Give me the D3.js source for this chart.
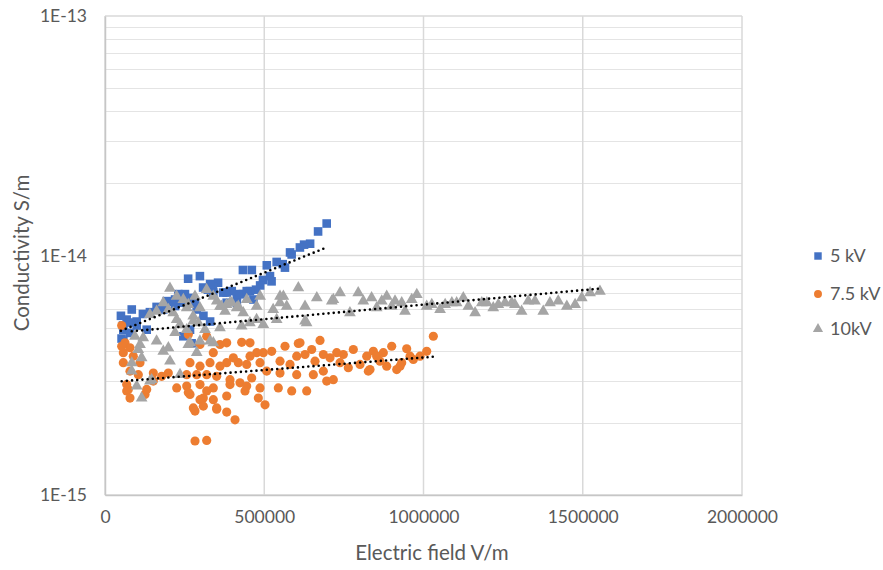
<!DOCTYPE html>
<html>
<head>
<meta charset="utf-8">
<script src="https://cdn.jsdelivr.net/npm/d3@7"></script>
<style>
  html, body { margin: 0; padding: 0; background: #ffffff; }
  svg { display: block; font-family: Lato, "Open Sans", sans-serif; }
</style>
</head>
<body>
<svg id="chart" width="883" height="570"></svg>
<script>
// Series names and legend order
const seriesNames = ["5 kV", "7.5 kV", "10kV"];

// 5 kV: electric field (V/m) and conductivity (S/m)
const field5 = [696000, 669000, 644000, 625000, 612000, 581000, 586000, 558000, 539000, 565000,
  508000, 523000, 496000, 461000, 433000, 474000, 455000, 433000, 414000, 398000,
  371000, 355000, 339000, 323000, 308000, 298000, 261000, 251000, 235500, 220000,
  209000, 194000, 162000, 141000, 119000, 99500, 84000, 68000, 56500, 230000,
  267000, 283000, 241000, 220000, 183000, 78500, 57500, 99500, 330000, 340000,
  382000, 424000, 445000, 466000, 414000, 382000, 518000, 288000, 309000, 330000,
  267000, 272000, 52000, 57500, 78500, 131000, 246000, 50000, 487000];
const cond5 = [1.36e-14, 1.26e-14, 1.12e-14, 1.11e-14, 1.08e-14, 1.03e-14, 1.01e-14, 9.2e-15, 9.4e-15, 8.9e-15,
  9.1e-15, 7.8e-15, 7.9e-15, 8.7e-15, 8.7e-15, 7.2e-15, 7.1e-15, 6.9e-15, 6.8e-15, 7.1e-15,
  7.0e-15, 7.7e-15, 7.4e-15, 7.2e-15, 7.35e-15, 8.2e-15, 8.0e-15, 6.9e-15, 6.8e-15, 6.55e-15,
  6.4e-15, 6.45e-15, 6.1e-15, 5.8e-15, 5.7e-15, 5.3e-15, 5.95e-15, 5.4e-15, 5.1e-15, 6.9e-15,
  6.65e-15, 6.35e-15, 6.35e-15, 6.15e-15, 5.95e-15, 5.25e-15, 4.9e-15, 5.1e-15, 7.6e-15, 7.0e-15,
  7.0e-15, 6.9e-15, 7.1e-15, 6.55e-15, 6.35e-15, 6.35e-15, 8.2e-15, 5.95e-15, 5.6e-15, 5.3e-15,
  4.9e-15, 4.3e-15, 4.5e-15, 4.4e-15, 4.75e-15, 4.9e-15, 4.6e-15, 5.6e-15, 7.5e-15];

// 7.5 kV
const field75 = [52400, 261600, 319300, 298300, 340000, 361100, 382100, 429200, 455300, 565200,
  607000, 675100, 649000, 727500, 748300, 779700, 842500, 853100, 900200, 947300,
  1030900, 1010100, 989100, 968100, 931600, 915900, 884500, 863500, 832100, 800700,
  763900, 737900, 706500, 685500, 685500, 659400, 628000, 601900, 580900, 549500,
  523400, 497100, 476300, 455300, 486700, 444900, 418600, 402900, 382100, 361100,
  329700, 298300, 266900, 256500, 287900, 319300, 350700, 392500, 423900, 460600,
  507700, 549500, 601900, 654100, 696100, 716900, 256500, 298300, 340100, 392500,
  444900, 486700, 544200, 586200, 633300, 308700, 340100, 266900, 481400, 502400,
  277300, 350700, 826800, 926300, 957700, 821700, 873900, 62800, 78500, 57500,
  88900, 57500, 109900, 78500, 104600, 151700, 178000, 198800, 151700, 68100,
  68100, 78500, 125600, 130900, 225100, 261600, 319300, 298300, 282600, 350700,
  382100, 408200, 382100, 439600, 282600, 319300, 612300, 308700, 52400, 73200];
const cond75 = [5.1e-15, 4.68e-15, 4.6e-15, 4.25e-15, 3.93e-15, 4.25e-15, 4.32e-15, 4.34e-15, 4.32e-15, 4.18e-15,
  4.29e-15, 4.42e-15, 4.05e-15, 3.93e-15, 3.86e-15, 4.05e-15, 3.98e-15, 3.8e-15, 4.18e-15, 4.08e-15,
  4.6e-15, 3.98e-15, 3.8e-15, 3.68e-15, 3.57e-15, 3.34e-15, 3.45e-15, 3.62e-15, 3.34e-15, 3.51e-15,
  3.4e-15, 3.57e-15, 3.74e-15, 3.86e-15, 3.29e-15, 3.62e-15, 3.86e-15, 3.8e-15, 3.51e-15, 3.62e-15,
  3.98e-15, 3.93e-15, 3.93e-15, 3.8e-15, 3.57e-15, 3.51e-15, 3.57e-15, 3.74e-15, 3.57e-15, 3.45e-15,
  3.57e-15, 3.45e-15, 3.57e-15, 3.18e-15, 3.18e-15, 3.18e-15, 3.13e-15, 3.03e-15, 2.94e-15, 3.08e-15,
  3.29e-15, 3.23e-15, 3.18e-15, 3.18e-15, 2.99e-15, 3.03e-15, 2.85e-15, 2.89e-15, 2.8e-15, 2.89e-15,
  2.85e-15, 2.8e-15, 2.8e-15, 2.72e-15, 2.72e-15, 2.54e-15, 2.5e-15, 2.63e-15, 2.54e-15, 2.38e-15,
  2.31e-15, 2.31e-15, 3.29e-15, 3.45e-15, 3.8e-15, 3.8e-15, 3.93e-15, 4.32e-15, 4.12e-15, 3.93e-15,
  3.8e-15, 3.57e-15, 3.57e-15, 3.29e-15, 3.18e-15, 3.23e-15, 3.13e-15, 3.23e-15, 2.99e-15, 2.89e-15,
  2.72e-15, 2.54e-15, 2.63e-15, 2.76e-15, 2.8e-15, 2.68e-15, 2.72e-15, 2.5e-15, 2.24e-15, 2.28e-15,
  2.22e-15, 2.06e-15, 2.59e-15, 2.72e-15, 1.68e-15, 1.69e-15, 4.32e-15, 2.35e-15, 4.18e-15, 2.76e-15];

// 10 kV
const field10 = [204000, 183000, 199000, 214000, 225000, 235500, 256500, 277000, 293000, 314000,
  330000, 351000, 361000, 377000, 392500, 418500, 434000, 455000, 476000, 497000,
  528000, 539000, 560000, 549500, 162000, 141000, 120000, 104500, 162000, 183000,
  298000, 361000, 429000, 110000, 115000, 204000, 84000, 99500, 141000, 115000,
  235500, 199000, 261500, 220000, 277000, 256500, 84000, 94000, 146500, 267000,
  288000, 340000, 628000, 225000, 246000, 261500, 282500, 298000, 319000, 340000,
  366000, 382000, 398000, 413500, 445000, 476000, 487000, 607000, 549500, 570500,
  628000, 665000, 717000, 633000, 712000, 738000, 769000, 795000, 811000, 837000,
  853000, 869000, 884500, 900000, 910600, 931600, 942000, 963000, 979000, 1010000,
  1026000, 1052000, 1068000, 1089000, 1104000, 1125000, 1141000, 1162000, 1183000, 1199000,
  1219000, 1235000, 1256000, 1277000, 1287000, 1308000, 1329000, 1350000, 1376000, 1397000,
  1423000, 1450000, 1476000, 1497000, 1523000, 1554000];
const cond10 = [7.3e-15, 6.35e-15, 5.95e-15, 5.76e-15, 5.4e-15, 5.15e-15, 6.05e-15, 5.58e-15, 5.23e-15, 4.9e-15,
  4.39e-15, 6.45e-15, 6.14e-15, 5.85e-15, 6.35e-15, 6.14e-15, 5.76e-15, 5.23e-15, 5.4e-15, 5.15e-15,
  5.95e-15, 5.4e-15, 6.76e-15, 6.35e-15, 5.85e-15, 5.67e-15, 4.53e-15, 4.05e-15, 4.39e-15, 3.98e-15,
  4.39e-15, 4.99e-15, 5.07e-15, 4.25e-15, 3.74e-15, 3.62e-15, 3.29e-15, 2.85e-15, 2.99e-15, 2.54e-15,
  3.18e-15, 4.12e-15, 4.25e-15, 4.76e-15, 5.32e-15, 4.9e-15, 3.56e-15, 4.6e-15, 3.03e-15, 4.32e-15,
  3.93e-15, 4.32e-15, 5.32e-15, 6.76e-15, 6.55e-15, 6.24e-15, 6.76e-15, 6.05e-15, 7.21e-15, 6.76e-15,
  6.14e-15, 6.24e-15, 6.35e-15, 6.05e-15, 6.55e-15, 6.14e-15, 6.76e-15, 7.33e-15, 6.76e-15, 6.14e-15,
  6.14e-15, 6.66e-15, 6.55e-15, 5.23e-15, 6.45e-15, 6.98e-15, 5.76e-15, 6.98e-15, 6.45e-15, 6.66e-15,
  6.05e-15, 6.45e-15, 6.76e-15, 6.14e-15, 6.45e-15, 6.35e-15, 5.85e-15, 6.55e-15, 6.87e-15, 6.14e-15,
  6.24e-15, 5.95e-15, 6.24e-15, 6.35e-15, 6.35e-15, 6.66e-15, 6.14e-15, 5.76e-15, 6.35e-15, 6.35e-15,
  6.05e-15, 6.24e-15, 6.35e-15, 6.35e-15, 6.24e-15, 5.85e-15, 6.45e-15, 6.45e-15, 5.85e-15, 6.35e-15,
  6.45e-15, 6.14e-15, 6.24e-15, 6.66e-15, 6.98e-15, 7.09e-15];

// Axis ticks
const xTicks = [0, 500000, 1000000, 1500000, 2000000];
const yMajorTicks = [1e-15, 1e-14, 1e-13];

const seriesColors = ["#4472C4", "#ED7D31", "#A5A5A5"];
const seriesShapes = [d3.symbolSquare, d3.symbolCircle, d3.symbolTriangle];
const seriesSizes = [74, 66, 60];

const svg = d3.select("#chart");
const plot = { left: 105, right: 742, top: 16, bottom: 495 };

const x = d3.scaleLinear().domain([0, 2000000]).range([plot.left, plot.right]);
const y = d3.scaleLog().domain([1e-15, 1e-13]).range([plot.bottom, plot.top]);

// Horizontal grid: minor lines at 2..9 per decade, majors at each power of ten
const minorTicks = y.ticks().filter(d => !yMajorTicks.some(m => Math.abs(m - d) / m < 1e-9));
svg.append("g").selectAll("line").data(minorTicks).join("line")
  .attr("x1", plot.left).attr("x2", plot.right)
  .attr("y1", d => Math.round(y(d)) + 0.5).attr("y2", d => Math.round(y(d)) + 0.5)
  .attr("stroke", "#e4e4e4").attr("stroke-width", 1);
svg.append("g").selectAll("line").data(yMajorTicks).join("line")
  .attr("x1", plot.left).attr("x2", plot.right)
  .attr("y1", d => y(d)).attr("y2", d => y(d))
  .attr("stroke", "#d9d9d9").attr("stroke-width", 1.5);

// Vertical grid
svg.append("g").selectAll("line").data(xTicks).join("line")
  .attr("x1", d => x(d)).attr("x2", d => x(d))
  .attr("y1", plot.top).attr("y2", plot.bottom)
  .attr("stroke", "#d9d9d9").attr("stroke-width", 1.5);

// Axes
const xAxis = svg.append("g").attr("transform", `translate(0,${plot.bottom})`)
  .call(d3.axisBottom(x).tickValues(xTicks).tickFormat(d3.format("d")).tickSize(0).tickPadding(16));
const yAxis = svg.append("g").attr("transform", `translate(${plot.left},0)`)
  .call(d3.axisLeft(y).tickValues(yMajorTicks)
    .tickFormat(d => "1E" + Math.round(Math.log10(d))).tickSize(0).tickPadding(18));
[xAxis, yAxis].forEach(g => {
  g.select(".domain").attr("stroke", "#c6c6c6").attr("stroke-width", 1.5);
  g.selectAll("text").attr("fill", "#595959").style("font-size", "17.5px")
    .style("font-family", "Lato, 'Open Sans', sans-serif");
});

// Axis titles
svg.append("text").attr("x", 432).attr("y", 560).attr("text-anchor", "middle")
  .attr("fill", "#595959").style("font-size", "20.5px").text("Electric field V/m");
svg.append("text").attr("transform", "translate(29,253) rotate(-90)").attr("text-anchor", "middle")
  .attr("fill", "#595959").style("font-size", "20.5px").text("Conductivity S/m");

// Points
const series = [
  { xs: field5, ys: cond5 },
  { xs: field75, ys: cond75 },
  { xs: field10, ys: cond10 }
];
series.forEach((s, i) => {
  const pts = s.xs.map((v, k) => [v, s.ys[k]]);
  svg.append("g").selectAll("path").data(pts).join("path")
    .attr("transform", d => `translate(${x(d[0])},${y(d[1])})`)
    .attr("d", d3.symbol().type(seriesShapes[i]).size(seriesSizes[i]))
    .attr("fill", seriesColors[i]);
});

// Exponential trendlines: least squares on ln(conductivity)
series.forEach(s => {
  const n = s.xs.length;
  const lx = s.xs, ly = s.ys.map(Math.log);
  const mx = d3.mean(lx), my = d3.mean(ly);
  let sxy = 0, sxx = 0;
  for (let k = 0; k < n; k++) { sxy += (lx[k] - mx) * (ly[k] - my); sxx += (lx[k] - mx) ** 2; }
  const b = sxy / sxx, a = my - b * mx;
  const [x0, x1] = d3.extent(lx);
  const samples = d3.range(0, 21).map(t => x0 + (x1 - x0) * t / 20);
  svg.append("path")
    .attr("d", d3.line().x(v => x(v)).y(v => y(Math.exp(a + b * v)))(samples))
    .attr("fill", "none").attr("stroke", "#000").attr("stroke-width", 2.6)
    .attr("stroke-linecap", "round").attr("stroke-dasharray", "0 5.2");
});

// Legend
const legend = svg.append("g");
seriesNames.forEach((name, i) => {
  const ly = [256, 294, 329][i];
  legend.append("path").attr("transform", `translate(818,${ly})`)
    .attr("d", d3.symbol().type(seriesShapes[i]).size(seriesSizes[i] * 0.75))
    .attr("fill", seriesColors[i]);
  legend.append("text").attr("x", 830).attr("y", ly).attr("dy", "0.35em")
    .attr("fill", "#595959").style("font-size", "18px").text(name);
});
</script>
</body>
</html>
